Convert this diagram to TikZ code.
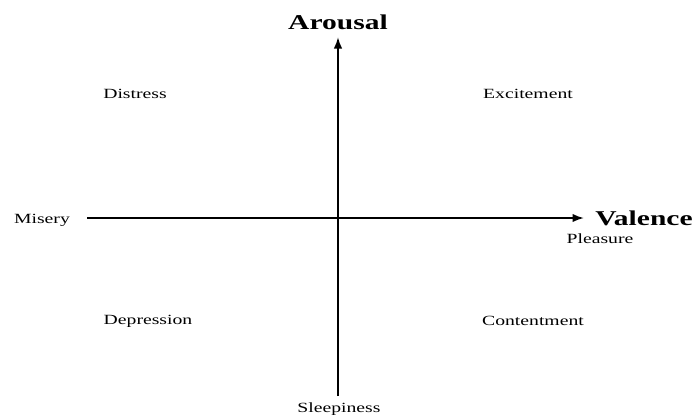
\documentclass[tikz,border=0pt]{standalone}
\usepackage{fontspec}
\setmainfont{Liberation Serif}
\newfontfamily\widefont[FakeStretch=1.4]{Liberation Serif}
\usetikzlibrary{arrows.meta}
\tikzset{
  lbl/.style={inner sep=1pt,font=\widefont\fontsize{8}{9}\selectfont},
  axlbl/.style={inner sep=1pt,font=\widefont\fontsize{12}{14}\selectfont\bfseries},
  axis/.style={line width=1.1pt,-{Latex[length=2.3mm,width=1.7mm]}}
}
\begin{document}
\begin{tikzpicture}[x=0.02cm,y=-0.02cm]
\useasboundingbox (0,0) rectangle (694,417);
\coordinate (vb) at (338,396);
\coordinate (vt) at (338,37);
\coordinate (hl) at (87,218);
\coordinate (hr) at (584,218);
\node[axlbl] (aro) at (338,22) {Arousal};
\node[axlbl] (val) at (644,218) {Valence};
\node[lbl] (ple) at (600,239) {Pleasure};
\node[lbl] (mis) at (42,220) {Misery};
\node[lbl] (sle) at (339,409) {Sleepiness};
\node[lbl] (dis) at (135,94) {Distress};
\node[lbl] (exc) at (528,94) {Excitement};
\node[lbl] (dep) at (148,321) {Depression};
\node[lbl] (con) at (533,321) {Contentment};
\draw[axis] (vb)--(vt);
\draw[axis] (hl)--(hr);
\end{tikzpicture}
\end{document}
